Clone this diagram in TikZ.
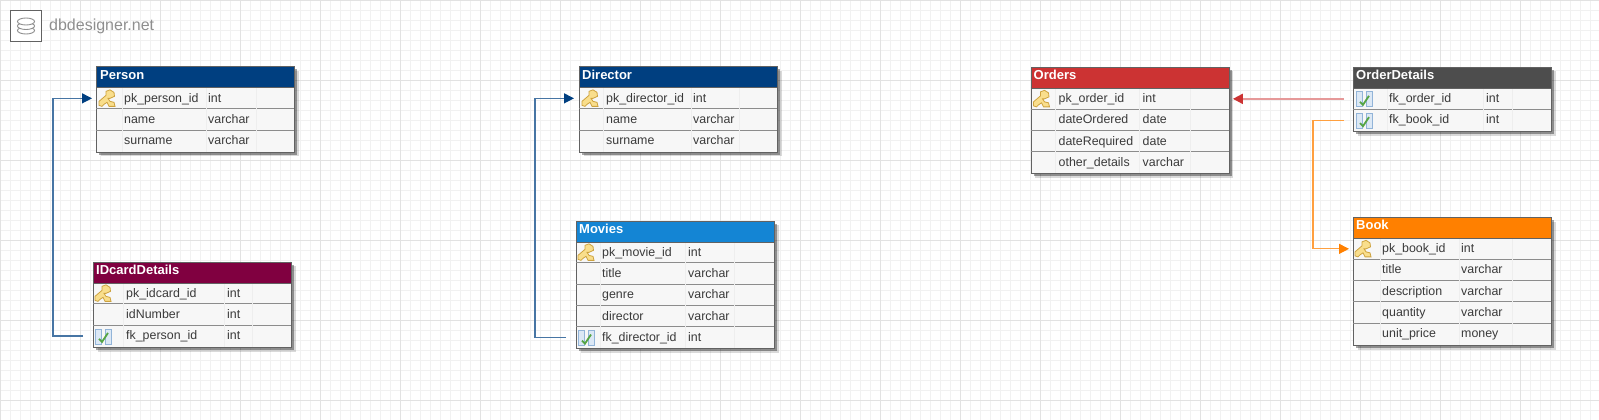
\documentclass[tikz,border=0pt]{standalone}
\usepackage{fontspec}
\setmainfont{Liberation Sans}
\usetikzlibrary{arrows.meta,positioning,calc,shadows,shapes.geometric}
\definecolor{ink}{HTML}{3A3A3A}
\definecolor{edgegray}{HTML}{626262}
\definecolor{rulegray}{HTML}{8C8C8C}
\definecolor{rowfill}{HTML}{F7F7F7}
\definecolor{colgray}{HTML}{EEEEEE}
\definecolor{gridfine}{HTML}{F1F1F1}
\definecolor{gridmajor}{HTML}{E2E2E2}
\definecolor{navyhead}{HTML}{003F80}
\definecolor{winehead}{HTML}{800040}
\definecolor{skyhead}{HTML}{1485D4}
\definecolor{redhead}{HTML}{CC3333}
\definecolor{slatehead}{HTML}{4D4D4D}
\definecolor{orangehead}{HTML}{FF8000}
\definecolor{logogray}{HTML}{8E8E8E}
\definecolor{keygold}{HTML}{F9DE8C}
\definecolor{keyedge}{HTML}{CDA23E}
\definecolor{fkblue}{HTML}{DCE8F5}
\definecolor{fkedge}{HTML}{92B4D8}
\definecolor{fkgreen}{HTML}{55A544}
\tikzset{
  >=Latex,
  font=\fontsize{12.4}{14}\selectfont,
  tablebox/.style={draw=edgegray, fill=rowfill, anchor=north west, minimum width=198pt,
    inner sep=0pt, line width=1pt,
    drop shadow={shadow xshift=4pt, shadow yshift=-4pt, fill=black, opacity=0.15},
    drop shadow={shadow xshift=2.5pt, shadow yshift=-2.5pt, fill=black, opacity=0.35}},
  tablehead/.style={draw=edgegray, anchor=north west, minimum width=198pt, minimum height=21pt,
    inner sep=0pt, line width=1pt},
  headtext/.style={anchor=west, inner sep=0pt, text=white, yshift=1.5pt,
    text height=9.5pt, text depth=3pt, font=\fontsize{13}{15}\selectfont\bfseries},
  tablerow/.style={anchor=north west, minimum width=198pt, minimum height=21.3pt, inner sep=0pt},
  rowrule/.style={draw=rulegray, line width=1pt},
  colrule/.style={draw=colgray, line width=0.6pt},
  fieldtext/.style={anchor=west, inner sep=0pt, text=ink, yshift=-0.8pt, text height=9pt, text depth=3pt},
  logobox/.style={draw=edgegray, fill=white, minimum size=31pt, inner sep=0pt, line width=1.3pt},
  logodisc/.style={draw=logogray, fill=white, ellipse, minimum width=17pt, minimum height=7pt,
    inner sep=0pt, line width=0.9pt},
  logotext/.style={anchor=west, inner sep=0pt, text=logogray, font=\fontsize{16}{18}\selectfont},
  navylink/.style={-{Triangle[length=10pt,width=10pt,color=navyhead]}, draw=navyhead!72, line width=1.2pt},
  redlink/.style={-{Triangle[length=10pt,width=10pt,color=redhead]}, draw=redhead!50, line width=2pt},
  orangelink/.style={-{Triangle[length=10pt,width=10pt,color=orangehead]}, draw=orangehead!75, line width=1.2pt},
  keyicon/.pic={
    \draw[draw=keyedge, fill=keygold, line width=0.8pt]
      (-8,7) -- (-8,3) -- (-1,-3) -- (-1,-7) -- (3,-8.5) -- (7,-6) -- (7.5,-2) -- (3,0) -- (1,0)
      -- (3,3) -- (7,4) -- (8,8) -- (2,8) -- (0,4) -- (-3,6) -- (-5,8) -- cycle;
  },
  fkicon/.pic={
    \draw[draw=fkedge, fill=fkblue, line width=0.8pt] (-8,-7) rectangle (-2,8);
    \draw[draw=fkedge, fill=fkblue, line width=0.8pt] (2,-7) rectangle (8,8);
    \draw[draw=fkgreen, line width=1.8pt] (-4,3) -- (-1,6) -- (5,-3);
  }
}
\begin{document}
\begin{tikzpicture}[x=1pt,y=-1pt]
\useasboundingbox (0,0) rectangle (1599,420);
\foreach \x in {0,10,...,1590} \draw[gridfine, line width=1pt] (\x+0.5,0) -- (\x+0.5,420);
\foreach \y in {0,10,...,410} \draw[gridfine, line width=1pt] (0,\y+0.5) -- (1599,\y+0.5);
\foreach \x in {0,80,...,1590} \draw[gridmajor, line width=1pt] (\x+0.5,0) -- (\x+0.5,420);
\foreach \y in {0,80,...,410} \draw[gridmajor, line width=1pt] (0,\y+0.5) -- (1599,\y+0.5);

% logo
\node[logobox] (logo) at (26,26) {};
\foreach \y/\name in {30.5/dbcyla,26/dbcylb,21.5/dbcylc}
  \node[logodisc] (\name) at (26,\y) {};
\node[logotext] (logolabel) at (49,26) {dbdesigner.net};

% Person table
\node[tablebox, minimum height=85pt] (personbox) at (96,66.5) {};
\foreach \y/\name/\lab/\typ in {87.5/pkperson/pk\_person\_id/int,108.8/pname/name/varchar,130.1/psurname/surname/varchar} {
  \node[tablerow] (\name) at (96,\y) {};
  \draw[rowrule] (\name.north west) -- (\name.north east);
  \node[fieldtext] (\name-lab) at ([xshift=28]\name.west) {\lab};
  \node[fieldtext] (\name-typ) at ([xshift=112]\name.west) {\typ};
}
\foreach \c in {26,110,160} \draw[colrule] ([xshift=\c]pkperson.north west) -- ([xshift=\c]psurname.south west);
\node[tablehead, fill=navyhead] (person) at (96,66.5) {};
\node[headtext] (persontitle) at ([xshift=4]person.west) {Person};
\pic at ([xshift=11]pkperson.west) {keyicon};

% IDcardDetails table
\node[tablebox, minimum height=85.5pt] (idcardbox) at (93,261.5) {};
\foreach \y/\name/\lab/\typ in {282.5/pkidcard/pk\_idcard\_id/int,303.8/idnumber/idNumber/int,325.1/fkperson/fk\_person\_id/int} {
  \node[tablerow] (\name) at (93,\y) {};
  \draw[rowrule] (\name.north west) -- (\name.north east);
  \node[fieldtext] (\name-lab) at ([xshift=33]\name.west) {\lab};
  \node[fieldtext] (\name-typ) at ([xshift=134]\name.west) {\typ};
}
\foreach \c in {30,131,159} \draw[colrule] ([xshift=\c]pkidcard.north west) -- ([xshift=\c]fkperson.south west);
\node[tablehead, fill=winehead] (idcard) at (93,261.5) {};
\node[headtext] (idcardtitle) at ([xshift=3]idcard.west) {IDcardDetails};
\pic at ([xshift=10]pkidcard.west) {keyicon};
\pic at ([xshift=10]fkperson.west) {fkicon};

% Director table
\node[tablebox, minimum height=85pt] (directorbox) at (579,66.5) {};
\foreach \y/\name/\lab/\typ in {87.5/pkdirector/pk\_director\_id/int,108.8/dname/name/varchar,130.1/dsurname/surname/varchar} {
  \node[tablerow] (\name) at (579,\y) {};
  \draw[rowrule] (\name.north west) -- (\name.north east);
  \node[fieldtext] (\name-lab) at ([xshift=27]\name.west) {\lab};
  \node[fieldtext] (\name-typ) at ([xshift=114]\name.west) {\typ};
}
\foreach \c in {24,112,160} \draw[colrule] ([xshift=\c]pkdirector.north west) -- ([xshift=\c]dsurname.south west);
\node[tablehead, fill=navyhead] (director) at (579,66.5) {};
\node[headtext] (directortitle) at ([xshift=3]director.west) {Director};
\pic at ([xshift=11]pkdirector.west) {keyicon};

% Movies table
\node[tablebox, minimum height=127.5pt] (moviesbox) at (576,220.5) {};
\foreach \y/\name/\lab/\typ in {241.5/pkmovie/pk\_movie\_id/int,262.8/mtitle/title/varchar,284.1/mgenre/genre/varchar,305.4/mdirector/director/varchar,326.7/fkdirector/fk\_director\_id/int} {
  \node[tablerow] (\name) at (576,\y) {};
  \draw[rowrule] (\name.north west) -- (\name.north east);
  \node[fieldtext] (\name-lab) at ([xshift=26]\name.west) {\lab};
  \node[fieldtext] (\name-typ) at ([xshift=112]\name.west) {\typ};
}
\foreach \c in {24,109,158} \draw[colrule] ([xshift=\c]pkmovie.north west) -- ([xshift=\c]fkdirector.south west);
\node[tablehead, fill=skyhead] (movies) at (576,220.5) {};
\node[headtext] (moviestitle) at ([xshift=3]movies.west) {Movies};
\pic at ([xshift=10]pkmovie.west) {keyicon};
\pic at ([xshift=10]fkdirector.west) {fkicon};

% Orders table
\node[tablebox, minimum height=106pt] (ordersbox) at (1030.5,67) {};
\foreach \y/\name/\lab/\typ in {88/pkorder/pk\_order\_id/int,109.2/oordered/dateOrdered/date,130.4/orequired/dateRequired/date,151.6/oother/other\_details/varchar} {
  \node[tablerow] (\name) at (1030.5,\y) {};
  \draw[rowrule] (\name.north west) -- (\name.north east);
  \node[fieldtext] (\name-lab) at ([xshift=28]\name.west) {\lab};
  \node[fieldtext] (\name-typ) at ([xshift=112]\name.west) {\typ};
}
\foreach \c in {25,109,160} \draw[colrule] ([xshift=\c]pkorder.north west) -- ([xshift=\c]oother.south west);
\node[tablehead, fill=redhead] (orders) at (1030.5,67) {};
\node[headtext] (orderstitle) at ([xshift=3]orders.west) {Orders};
\pic at ([xshift=11]pkorder.west) {keyicon};

% OrderDetails table
\node[tablebox, minimum height=64pt] (detailsbox) at (1353,67) {};
\foreach \y/\name/\lab/\typ in {88/fkorder/fk\_order\_id/int,109.3/fkbook/fk\_book\_id/int} {
  \node[tablerow] (\name) at (1353,\y) {};
  \draw[rowrule] (\name.north west) -- (\name.north east);
  \node[fieldtext] (\name-lab) at ([xshift=36]\name.west) {\lab};
  \node[fieldtext] (\name-typ) at ([xshift=133]\name.west) {\typ};
  \pic at ([xshift=11]\name.west) {fkicon};
}
\foreach \c in {34,130,159} \draw[colrule] ([xshift=\c]fkorder.north west) -- ([xshift=\c]fkbook.south west);
\node[tablehead, fill=slatehead] (details) at (1353,67) {};
\node[headtext] (detailstitle) at ([xshift=3]details.west) {OrderDetails};

% Book table
\node[tablebox, minimum height=128pt] (bookbox) at (1353,217) {};
\foreach \y/\name/\lab/\typ in {238/pkbook/pk\_book\_id/int,259.3/btitle/title/varchar,280.6/bdesc/description/varchar,301.9/bquantity/quantity/varchar,323.2/bprice/unit\_price/money} {
  \node[tablerow] (\name) at (1353,\y) {};
  \draw[rowrule] (\name.north west) -- (\name.north east);
  \node[fieldtext] (\name-lab) at ([xshift=29]\name.west) {\lab};
  \node[fieldtext] (\name-typ) at ([xshift=108]\name.west) {\typ};
}
\foreach \c in {27,106,159} \draw[colrule] ([xshift=\c]pkbook.north west) -- ([xshift=\c]bprice.south west);
\node[tablehead, fill=orangehead] (book) at (1353,217) {};
\node[headtext] (booktitle) at ([xshift=3]book.west) {Book};
\pic at ([xshift=10]pkbook.west) {keyicon};

% references
\draw[navylink, shorten <=10pt, shorten >=4pt] (fkperson.west) -- ++(-40,0) |- (pkperson.west);
\draw[navylink, shorten <=10pt, shorten >=5pt] (fkdirector.west) -- ++(-41,0) |- (pkdirector.west);
\draw[redlink, shorten <=9pt, shorten >=4pt] (fkorder.west) -- (pkorder.east);
\draw[orangelink, shorten <=9pt, shorten >=4pt] (fkbook.west) -- ++(-40,0) |- (pkbook.west);
\end{tikzpicture}
\end{document}
